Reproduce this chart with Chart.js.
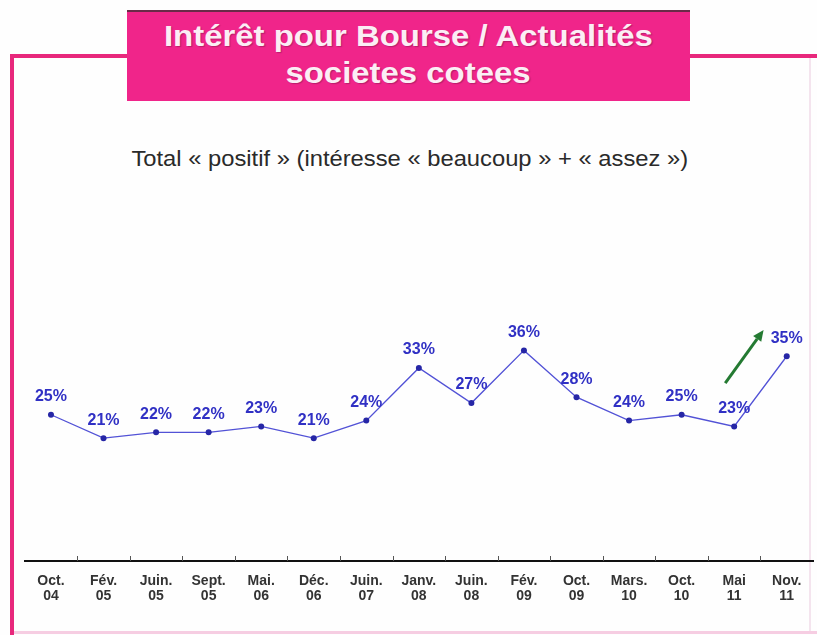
<!DOCTYPE html>
<html>
<head>
<meta charset="utf-8">
<script src="https://cdn.jsdelivr.net/npm/chart.js@4/dist/chart.umd.min.js"></script>
<style>
  html, body { margin: 0; padding: 0; background: #ffffff; }
  #page { position: relative; width: 817px; height: 635px; overflow: hidden; background: #fefefe; font-family: "Liberation Sans", Arial, sans-serif; }
  .frame { position: absolute; background: #e8287c; }
  #titleBox { position: absolute; left: 127px; top: 10px; width: 563px; height: 89px; background: #f0258a; border-top: 2px solid #6a2a48; }
  .tline { position: absolute; left: 0; width: 563px; text-align: center; font-weight: bold; font-size: 29px; line-height: 29px; color: #fbeef5; white-space: nowrap; text-shadow: 1px 1px 1px rgba(120,20,70,0.45); }
  .tline span { display: inline-block; transform: scaleX(1.135); transform-origin: center; }
  #subtitle { position: absolute; left: 0; width: 817px; top: 148px; text-align: center; font-size: 22px; line-height: 22px; color: #2a2a2a; white-space: nowrap; }
  #subtitle span { display: inline-block; transform: scaleX(1.08); transform-origin: center; margin-left: 2px; }
  canvas { position: absolute; left: 0; top: 0; }
</style>
</head>
<body>
<div id="page">
  <div class="frame" style="left:10px; top:54px; width:807px; height:4px;"></div>
  <div class="frame" style="left:10px; top:54px; width:4px; height:581px;"></div>
  <div style="position:absolute; left:14px; top:631px; width:803px; height:3px; background:#f6cde2;"></div>
  <div style="position:absolute; left:809px; top:58px; width:2px; height:573px; background:#f4e4ee;"></div>
  <div id="titleBox">
    <div class="tline" style="top:10px;"><span>Intérêt pour Bourse / Actualités</span></div>
    <div class="tline" style="top:47px;"><span>societes cotees</span></div>
  </div>
  <div id="subtitle"><span>Total « positif » (intéresse « beaucoup » + « assez »)</span></div>
  <canvas id="c" width="817" height="635"></canvas>
</div>
<script>
// ---- Data ----
const periodMonths = ["Oct.", "Fév.", "Juin.", "Sept.", "Mai.", "Déc.", "Juin.", "Janv.", "Juin.", "Fév.", "Oct.", "Mars.", "Oct.", "Mai", "Nov."];
const periodYears  = ["04", "05", "05", "05", "06", "06", "07", "08", "08", "09", "09", "10", "10", "11", "11"];
const totalPositif = [25, 21, 22, 22, 23, 21, 24, 33, 27, 36, 28, 24, 25, 23, 35];
// Trend arrow annotation (category index, value) start and end
const trendArrowFrom = [12.83, 30.4];
const trendArrowTo   = [13.56, 39.5];

const tickLabels = periodMonths.map((m, i) => [m, periodYears[i]]);
const FONT = '"Liberation Sans", Arial, sans-serif';

const decorPlugin = {
  id: 'decor',
  afterDraw(chart) {
    const ctx = chart.ctx;
    const xs = chart.scales.x;
    const bottom = chart.chartArea.bottom;
    ctx.save();
    ctx.strokeStyle = '#555';
    ctx.lineWidth = 1;
    for (let i = 0; i < totalPositif.length - 1; i++) {
      const x = Math.round(xs.getPixelForValue(i + 0.5)) + 0.5;
      ctx.beginPath();
      ctx.moveTo(x, bottom - 5);
      ctx.lineTo(x, bottom);
      ctx.stroke();
    }
    ctx.restore();
  },
  afterDatasetsDraw(chart) {
    const ctx = chart.ctx;
    const meta = chart.getDatasetMeta(0);
    ctx.save();
    ctx.font = 'bold 16px ' + FONT;
    ctx.fillStyle = '#3030c4';
    ctx.textAlign = 'center';
    ctx.textBaseline = 'middle';
    meta.data.forEach((pt, i) => {
      ctx.fillText(totalPositif[i] + '%', pt.x, pt.y - 18);
    });
    const xs = chart.scales.x, ys = chart.scales.y;
    const x1 = xs.getPixelForValue(trendArrowFrom[0]), y1 = ys.getPixelForValue(trendArrowFrom[1]);
    const x2 = xs.getPixelForValue(trendArrowTo[0]), y2 = ys.getPixelForValue(trendArrowTo[1]);
    const ang = Math.atan2(y2 - y1, x2 - x1);
    const headLen = 11, headW = 5;
    const bx = x2 - headLen * Math.cos(ang), by = y2 - headLen * Math.sin(ang);
    ctx.strokeStyle = '#247a32';
    ctx.fillStyle = '#247a32';
    ctx.lineWidth = 3;
    ctx.beginPath();
    ctx.moveTo(x1, y1);
    ctx.lineTo(bx, by);
    ctx.stroke();
    ctx.beginPath();
    ctx.moveTo(x2, y2);
    ctx.lineTo(bx + headW * Math.sin(ang), by - headW * Math.cos(ang));
    ctx.lineTo(bx - headW * Math.sin(ang), by + headW * Math.cos(ang));
    ctx.closePath();
    ctx.fill();
    ctx.restore();
  }
};

new Chart(document.getElementById('c'), {
  type: 'line',
  data: {
    labels: tickLabels,
    datasets: [{
      data: totalPositif,
      borderColor: '#5252d6',
      borderWidth: 1.3,
      pointRadius: 3,
      pointBackgroundColor: '#2626a6',
      pointBorderColor: '#2626a6',
      pointBorderWidth: 0,
      tension: 0,
      fill: false
    }]
  },
  options: {
    responsive: false,
    animation: false,
    layout: { padding: { left: 24.7, right: 2.4, top: 268.5, bottom: 0 } },
    plugins: { legend: { display: false }, tooltip: { enabled: false }, title: { display: false } },
    scales: {
      x: {
        offset: true,
        grid: { display: false, drawTicks: false },
        border: { display: true, color: '#111111', width: 2 },
        ticks: {
          autoSkip: false,
          maxRotation: 0,
          padding: 13,
          color: '#333333',
          font: { family: FONT, size: 14, weight: 'bold', lineHeight: '15px' }
        },
        afterFit(scale) { scale.height = 74; }
      },
      y: {
        display: false,
        min: 0,
        max: 50
      }
    }
  },
  plugins: [decorPlugin]
});
</script>
</body>
</html>
